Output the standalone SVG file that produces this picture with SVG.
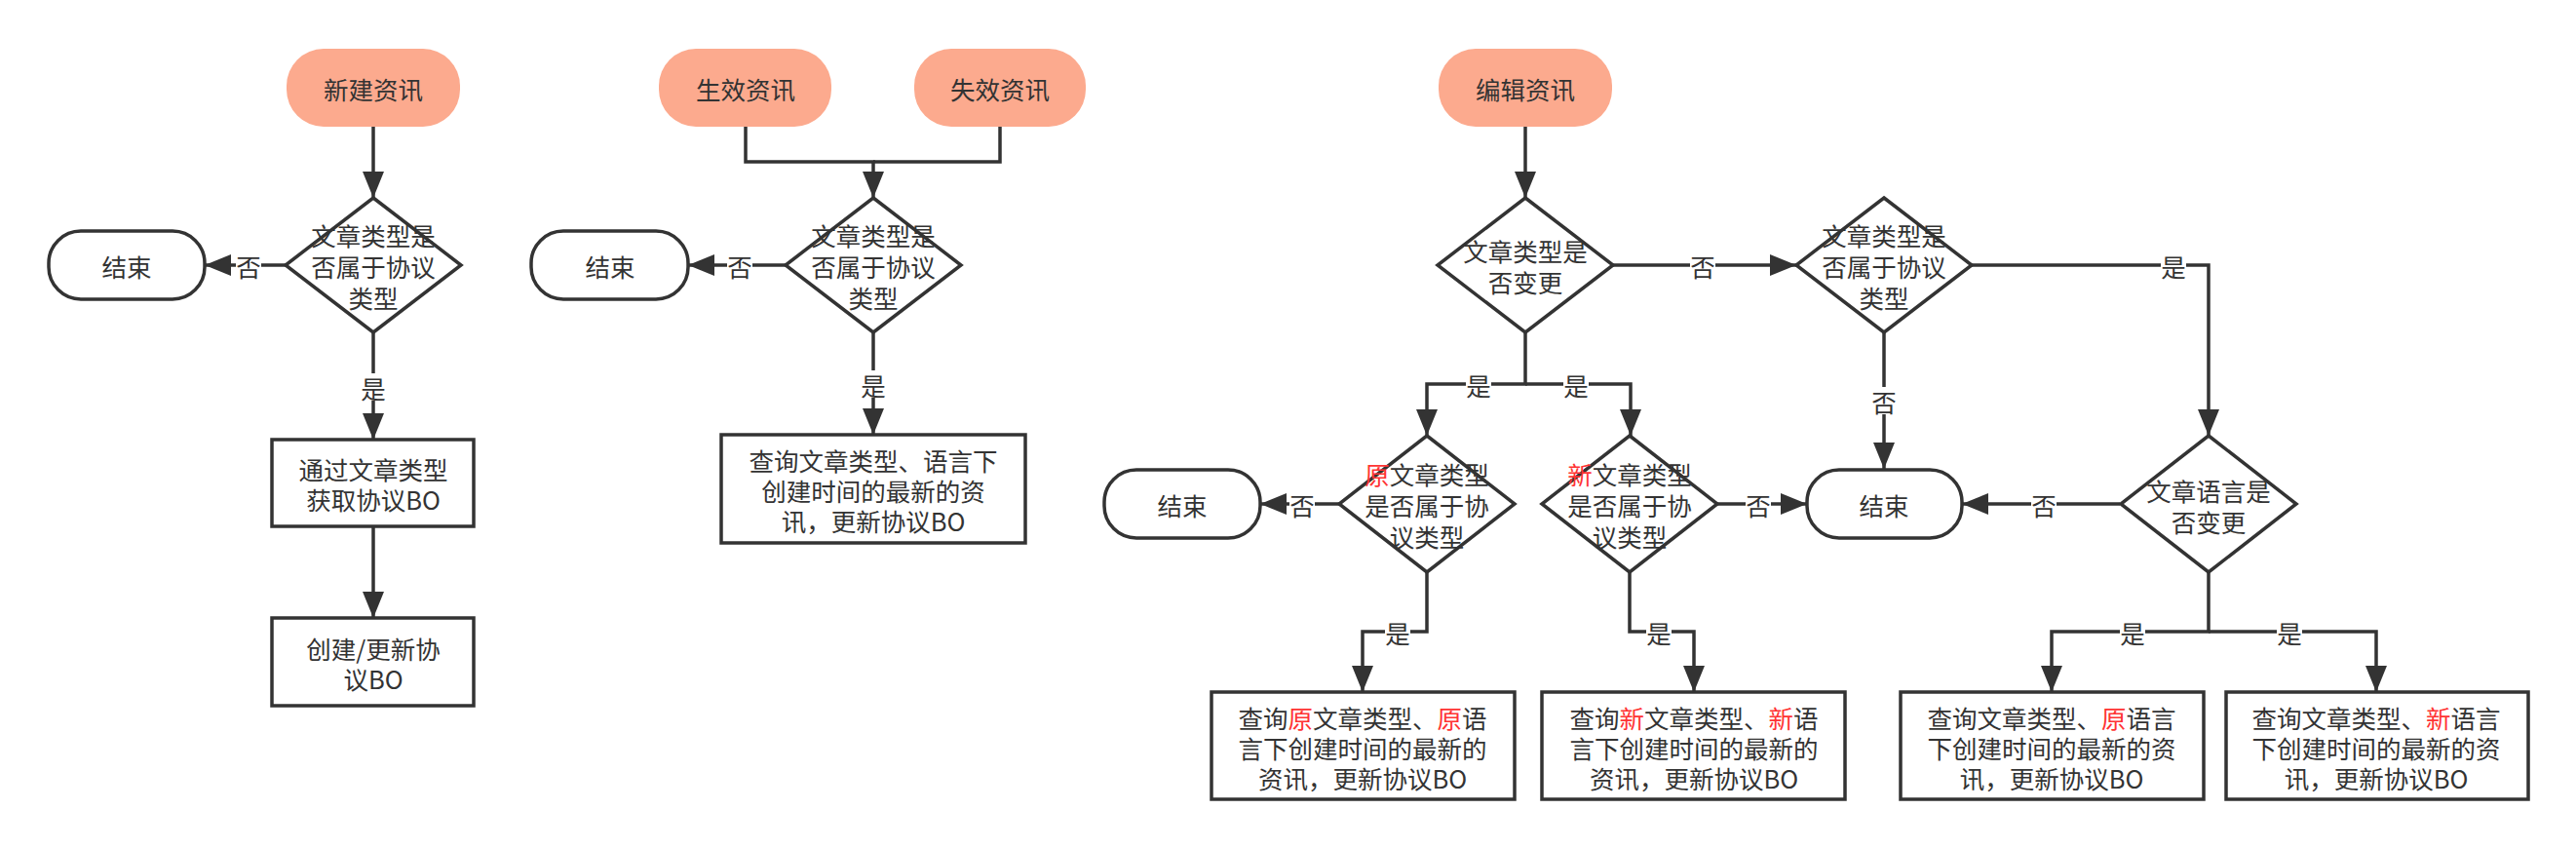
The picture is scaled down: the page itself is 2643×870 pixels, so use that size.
<svg xmlns="http://www.w3.org/2000/svg" width="2643" height="870" viewBox="0 0 2643 870">
<style>
text{font-family:"Noto Sans CJK SC","Microsoft YaHei",sans-serif;font-size:25.5px;fill:#333;text-anchor:middle;dominant-baseline:central}
.start{fill:#FCAA8E;stroke:none}
.term{fill:#fff;stroke:#333;stroke-width:3.5}
.proc{fill:#fff;stroke:#333;stroke-width:3.5}
.dec{fill:#fff;stroke:#333;stroke-width:3.5;stroke-linejoin:miter}
.edge{fill:none;stroke:#333;stroke-width:3.5;marker-end:url(#arr)}
.line{fill:none;stroke:#333;stroke-width:3.5}
.lbg{fill:#fff}
.red{fill:#F33}
</style>
<defs>
<marker id="arr" markerUnits="userSpaceOnUse" markerWidth="28" markerHeight="22" refX="27" refY="11" orient="auto">
<path d="M0,0 L27,11 L0,22 Z" fill="#333"/>
</marker>
</defs>
<rect width="2643" height="870" fill="#fff"/>

<g id="connectors">
<path class="edge" d="M383,130 V203"/>
<path class="edge" d="M293,272 H210"/>
<path class="edge" d="M383,341 V451"/>
<path class="edge" d="M383,540 V634"/>
<path class="line" d="M1026,130 V166 H896"/>
<path class="edge" d="M765,130 V166 H896 V203"/>
<path class="edge" d="M806,272 H706"/>
<path class="edge" d="M896,341 V446"/>
<path class="edge" d="M1565,130 V203"/>
<path class="edge" d="M1655,272 H1843"/>
<path class="edge" d="M1565,341 V394 H1464 V447"/>
<path class="edge" d="M1565,394 H1673 V447"/>
<path class="edge" d="M1374,517 H1293"/>
<path class="edge" d="M1762,517 H1854"/>
<path class="edge" d="M1464,587 V648 H1398 V710"/>
<path class="edge" d="M1672,587 V648 H1738 V710"/>
<path class="edge" d="M2023,272 H2266 V447"/>
<path class="edge" d="M1933,341 V481"/>
<path class="edge" d="M2175,517 H2013"/>
<path class="edge" d="M2266,587 V648 H2105 V710"/>
<path class="edge" d="M2266,648 H2438 V710"/>
<g id="edge-labels">
<rect class="lbg" x="242" y="258" width="26" height="28"/><text x="255" y="272">否</text>
<rect class="lbg" x="370" y="383" width="26" height="28"/><text x="383" y="397">是</text>
<rect class="lbg" x="746" y="258" width="26" height="28"/><text x="759" y="272">否</text>
<rect class="lbg" x="883" y="380" width="26" height="28"/><text x="896" y="394">是</text>
<rect class="lbg" x="1734" y="258" width="26" height="28"/><text x="1747" y="272">否</text>
<rect class="lbg" x="1504" y="380" width="26" height="28"/><text x="1517" y="394">是</text>
<rect class="lbg" x="1604" y="380" width="26" height="28"/><text x="1617" y="394">是</text>
<rect class="lbg" x="1323" y="503" width="26" height="28"/><text x="1336" y="517">否</text>
<rect class="lbg" x="1791" y="503" width="26" height="28"/><text x="1804" y="517">否</text>
<rect class="lbg" x="1421" y="634" width="26" height="28"/><text x="1434" y="648">是</text>
<rect class="lbg" x="1689" y="634" width="26" height="28"/><text x="1702" y="648">是</text>
<rect class="lbg" x="2217" y="258" width="26" height="28"/><text x="2230" y="272">是</text>
<rect class="lbg" x="1920" y="397" width="26" height="28"/><text x="1933" y="411">否</text>
<rect class="lbg" x="2084" y="503" width="26" height="28"/><text x="2097" y="517">否</text>
<rect class="lbg" x="2175" y="634" width="26" height="28"/><text x="2188" y="648">是</text>
<rect class="lbg" x="2336" y="634" width="26" height="28"/><text x="2349" y="648">是</text>
</g>
</g>

<g id="n-new"><rect class="start" x="294" y="50" width="178" height="80" rx="38"/><text x="383" y="90">新建资讯</text></g>
<g id="n-d1"><polygon class="dec" points="383,203 473,272 383,341 293,272"/><text x="383" y="240">文章类型是<tspan x="383" dy="32">否属于协议</tspan><tspan x="383" dy="32">类型</tspan></text></g>
<g id="n-end1"><rect class="term" x="50" y="237" width="160" height="70" rx="33"/><text x="130" y="272">结束</text></g>
<g id="n-p1"><rect class="proc" x="279" y="451" width="207" height="89"/><text x="383" y="480">通过文章类型<tspan x="383" dy="31">获取协议BO</tspan></text></g>
<g id="n-p2"><rect class="proc" x="279" y="634" width="207" height="90"/><text x="383" y="664">创建/更新协<tspan x="383" dy="31">议BO</tspan></text></g>

<g id="n-eff"><rect class="start" x="676" y="50" width="177" height="80" rx="38"/><text x="765" y="90">生效资讯</text></g>
<g id="n-ineff"><rect class="start" x="938" y="50" width="176" height="80" rx="38"/><text x="1026" y="90">失效资讯</text></g>
<g id="n-d2"><polygon class="dec" points="896,203 986,272 896,341 806,272"/><text x="896" y="240">文章类型是<tspan x="896" dy="32">否属于协议</tspan><tspan x="896" dy="32">类型</tspan></text></g>
<g id="n-end2"><rect class="term" x="545" y="237" width="161" height="70" rx="33"/><text x="626" y="272">结束</text></g>
<g id="n-p3"><rect class="proc" x="740" y="446" width="312" height="111"/><text x="896" y="471">查询文章类型、语言下<tspan x="896" dy="31">创建时间的最新的资</tspan><tspan x="896" dy="31">讯，更新协议BO</tspan></text></g>

<g id="n-edit"><rect class="start" x="1476" y="50" width="178" height="80" rx="38"/><text x="1565" y="90">编辑资讯</text></g>
<g id="n-dA"><polygon class="dec" points="1565,203 1655,272 1565,341 1475,272"/><text x="1565" y="256">文章类型是<tspan x="1565" dy="32">否变更</tspan></text></g>
<g id="n-dB"><polygon class="dec" points="1933,203 2023,272 1933,341 1843,272"/><text x="1933" y="240">文章类型是<tspan x="1933" dy="32">否属于协议</tspan><tspan x="1933" dy="32">类型</tspan></text></g>
<g id="n-dC"><polygon class="dec" points="1464,447 1554,517 1464,587 1374,517"/><text x="1464" y="485"><tspan class="red">原</tspan>文章类型<tspan x="1464" dy="32">是否属于协</tspan><tspan x="1464" dy="32">议类型</tspan></text></g>
<g id="n-dD"><polygon class="dec" points="1672,447 1762,517 1672,587 1582,517"/><text x="1672" y="485"><tspan class="red">新</tspan>文章类型<tspan x="1672" dy="32">是否属于协</tspan><tspan x="1672" dy="32">议类型</tspan></text></g>
<g id="n-end3"><rect class="term" x="1133" y="482" width="160" height="70" rx="33"/><text x="1213" y="517">结束</text></g>
<g id="n-end4"><rect class="term" x="1854" y="482" width="159" height="70" rx="33"/><text x="1933" y="517">结束</text></g>
<g id="n-dE"><polygon class="dec" points="2266,447 2356,517 2266,587 2176,517"/><text x="2266" y="502">文章语言是<tspan x="2266" dy="32">否变更</tspan></text></g>
<g id="n-pC"><rect class="proc" x="1243" y="710" width="311" height="110"/><text x="1398" y="735">查询<tspan class="red">原</tspan>文章类型、<tspan class="red">原</tspan>语<tspan x="1398" dy="31">言下创建时间的最新的</tspan><tspan x="1398" dy="31">资讯，更新协议BO</tspan></text></g>
<g id="n-pD"><rect class="proc" x="1582" y="710" width="311" height="110"/><text x="1738" y="735">查询<tspan class="red">新</tspan>文章类型、<tspan class="red">新</tspan>语<tspan x="1738" dy="31">言下创建时间的最新的</tspan><tspan x="1738" dy="31">资讯，更新协议BO</tspan></text></g>
<g id="n-pF"><rect class="proc" x="1950" y="710" width="311" height="110"/><text x="2105" y="735">查询文章类型、<tspan class="red">原</tspan>语言<tspan x="2105" dy="31">下创建时间的最新的资</tspan><tspan x="2105" dy="31">讯，更新协议BO</tspan></text></g>
<g id="n-pG"><rect class="proc" x="2284" y="710" width="310" height="110"/><text x="2438" y="735">查询文章类型、<tspan class="red">新</tspan>语言<tspan x="2438" dy="31">下创建时间的最新的资</tspan><tspan x="2438" dy="31">讯，更新协议BO</tspan></text></g>
</svg>
